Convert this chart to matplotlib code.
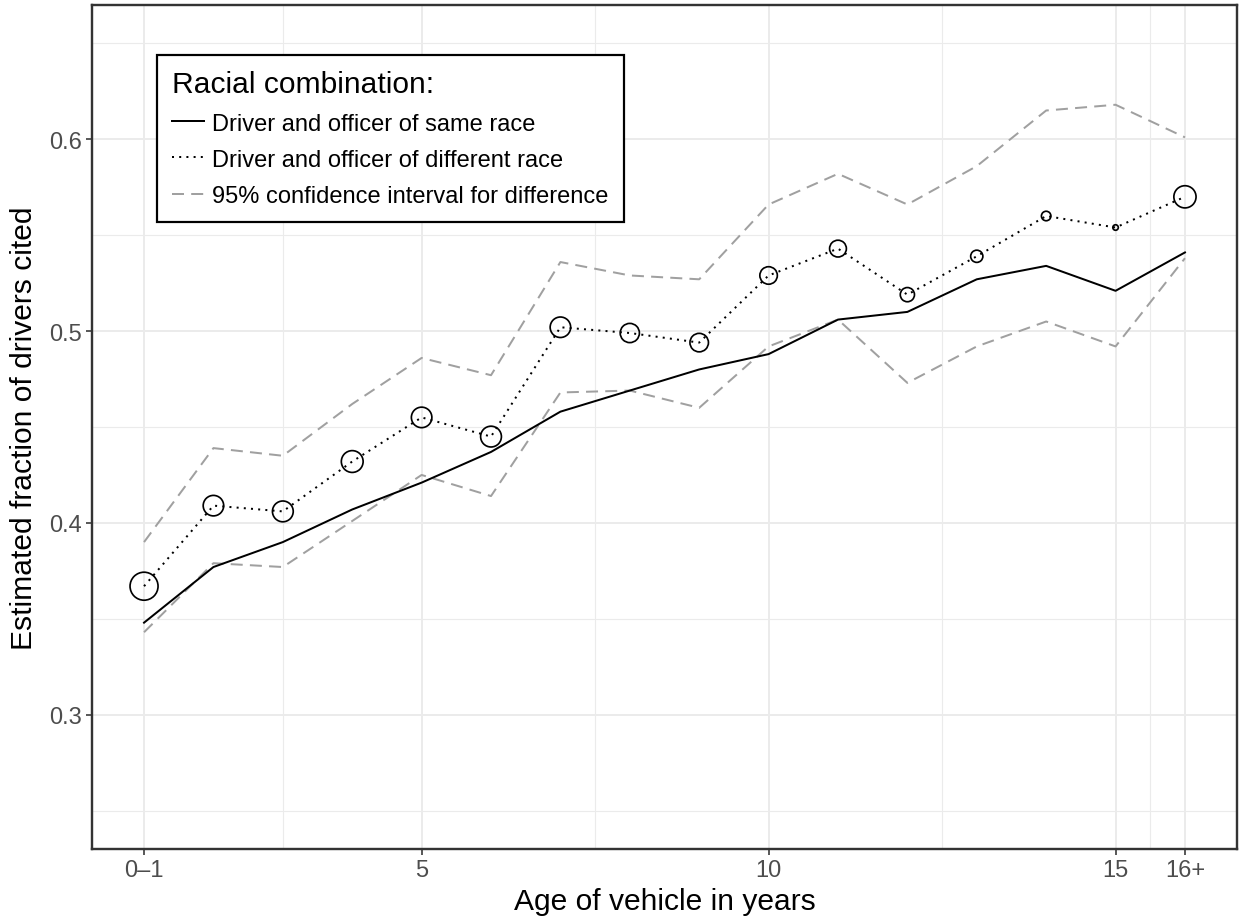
import matplotlib
matplotlib.use("Agg")
import matplotlib.pyplot as plt
from matplotlib.lines import Line2D
import numpy as np

plt.rcParams['font.family'] = ['Liberation Sans', 'DejaVu Sans']

# ---- data ----
age = [1, 2, 3, 4, 5, 6, 7, 8, 9, 10, 11, 12, 13, 14, 15, 16]
same_race = [0.348, 0.377, 0.390, 0.407, 0.421, 0.437, 0.458, 0.469, 0.480, 0.488,
             0.506, 0.510, 0.527, 0.534, 0.521, 0.541]
diff_race = [0.367, 0.409, 0.406, 0.432, 0.455, 0.445, 0.502, 0.499, 0.494, 0.529,
             0.543, 0.519, 0.539, 0.560, 0.554, 0.570]
ci_upper = [0.390, 0.439, 0.435, 0.462, 0.486, 0.477, 0.536, 0.529, 0.527, 0.566,
            0.582, 0.566, 0.586, 0.615, 0.618, 0.601]
ci_lower = [0.343, 0.379, 0.377, 0.401, 0.425, 0.414, 0.468, 0.469, 0.460, 0.492,
            0.506, 0.473, 0.492, 0.505, 0.492, 0.538]
# relative weight of each age group (circle diameter, px)
circle_diam = [28.0, 20.5, 20.8, 21.8, 20.5, 20.8, 20.5, 19.2, 18.5, 17.5,
               16.8, 14.2, 12.2, 9.5, 5.5, 22.2]
x_ticks = [1, 5, 10, 15, 16]
x_ticklabels = ['0\u20131', '5', '10', '15', '16+']
y_ticks = [0.3, 0.4, 0.5, 0.6]
labels = ['Driver and officer of same race',
          'Driver and officer of different race',
          '95% confidence interval for difference']

# ---- figure ----
W, H, DPI = 1239, 920, 100
fig = plt.figure(figsize=(W / DPI, H / DPI), dpi=DPI)
ax = fig.add_axes([92 / W, 1 - 850 / H, (1237 - 92) / W, (850 - 6) / H])

px = 72.0 / DPI
grid_col = '#EBEBEB'

ax.set_xlim(0.25, 16.75)
ax.set_ylim(0.23, 0.67)

ax.set_xticks(x_ticks)
ax.set_xticklabels(x_ticklabels)
ax.set_xticks([3, 7.5, 12.5, 15.5], minor=True)
ax.set_yticks(y_ticks)
ax.set_yticklabels([f'{v:.1f}' for v in y_ticks])
ax.set_yticks([0.25, 0.35, 0.45, 0.55, 0.65], minor=True)

ax.grid(True, which='major', color=grid_col, lw=2 * px, zorder=0)
ax.grid(True, which='minor', color=grid_col, lw=1.1 * px, zorder=0)
ax.set_axisbelow(True)

ax.tick_params(axis='both', which='major', length=6 * px, width=1.6 * px,
               color='#333333', labelcolor='#4D4D4D', labelsize=17, pad=3)
ax.tick_params(axis='both', which='minor', length=0)
for s in ax.spines.values():
    s.set_color('#333333')
    s.set_linewidth(2.4 * px)

lw = 2.0 * px
dash = (0, (6.0, 3.6))
dot = (0, (1, 2.6))
ax.plot(age, ci_upper, color='#A0A0A0', lw=lw, linestyle=dash, zorder=2)
ax.plot(age, ci_lower, color='#A0A0A0', lw=lw, linestyle=dash, zorder=2)
ax.plot(age, same_race, color='black', lw=lw, zorder=3)
ax.plot(age, diff_race, color='black', lw=lw, linestyle=dot, zorder=3)
ax.scatter(age, diff_race, s=[(d * px) ** 2 for d in circle_diam],
           facecolors='none', edgecolors='black', linewidths=1.7 * px, zorder=4)

ax.set_xlabel('Age of vehicle in years', fontsize=21.6, color='black', labelpad=4)
ax.set_ylabel('Estimated fraction of drivers cited', fontsize=21.6, color='black', labelpad=8)

handles = [Line2D([], [], color='black', lw=lw),
           Line2D([], [], color='black', lw=lw, linestyle=dot),
           Line2D([], [], color='#A0A0A0', lw=lw, linestyle=dash)]
leg = ax.legend(handles, labels, title='Racial combination:', loc='upper left',
                bbox_to_anchor=((157 - 92) / (1237 - 92), 1 - (56 - 6) / (850 - 6)),
                fontsize=17, title_fontsize=21.6, frameon=True, fancybox=False,
                edgecolor='black', framealpha=1, borderpad=0.65, labelspacing=0.6,
                handlelength=1.35, handletextpad=0.35, borderaxespad=0,
                alignment='left')
leg.get_frame().set_linewidth(2.2 * px)

fig.savefig('out.png', dpi=DPI)
